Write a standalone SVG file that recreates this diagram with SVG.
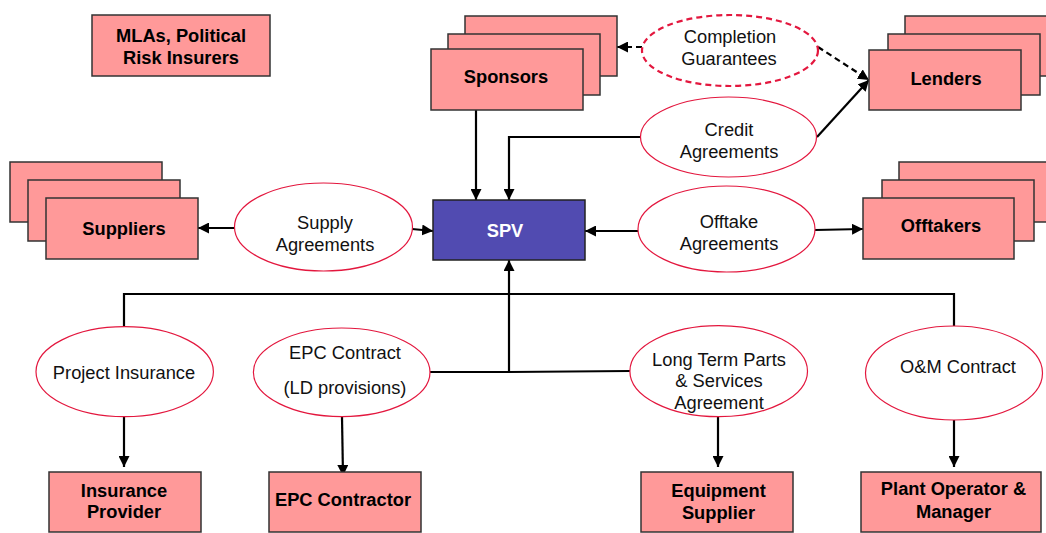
<svg xmlns="http://www.w3.org/2000/svg" width="1046" height="533" viewBox="0 0 1046 533">
<defs>
<marker id="ah" markerUnits="userSpaceOnUse" markerWidth="11" markerHeight="11" refX="10" refY="5" orient="auto" viewBox="0 0 10 10">
<path d="M0,0 L10,5 L0,10 z" fill="#000"/>
</marker>
</defs>
<style>
.box{fill:#FF9999;stroke:#333;stroke-width:1.5}
.spv{fill:#514BB1;stroke:#222;stroke-width:1.5}
.ell{fill:#fff;stroke:#E3173E;stroke-width:1.2}
.ellD{fill:#fff;stroke:#E3173E;stroke-width:2.2;stroke-dasharray:6 4}
.lbl{font-family:"Liberation Sans",Arial,sans-serif;font-size:18.3px;font-weight:bold;fill:#000;text-anchor:middle}
.txt{font-family:"Liberation Sans",Arial,sans-serif;font-size:18.3px;fill:#111;text-anchor:middle}
.con{fill:none;stroke:#000;stroke-width:2.2}
.dash{fill:none;stroke:#000;stroke-width:2.2;stroke-dasharray:6 4}
.arr{marker-end:url(#ah)}
</style>
<rect width="1046" height="533" fill="#fff"/>

<g id="connectors">
<line class="con arr" x1="476" y1="110" x2="476" y2="200"/>
<polyline class="con arr" points="640,137 509,137 509,200"/>
<line class="con arr" x1="817" y1="137" x2="869" y2="80"/>
<line class="dash arr" x1="642" y1="47" x2="617" y2="47"/>
<line class="dash arr" x1="818" y1="47" x2="869" y2="80"/>
<line class="con arr" x1="235" y1="228" x2="198" y2="228"/>
<line class="con arr" x1="412" y1="229" x2="433" y2="231"/>
<line class="con arr" x1="638" y1="231" x2="585" y2="231"/>
<line class="con arr" x1="815" y1="230" x2="863" y2="229"/>
<polyline class="con" points="124,327 124,294 954,294 954,327"/>
<polyline class="con" points="430,372 509,372 630,371"/>
<line class="con arr" x1="509" y1="372" x2="509" y2="260"/>
<line class="con arr" x1="124" y1="417" x2="124" y2="467"/>
<line class="con arr" x1="342" y1="417" x2="343" y2="476"/>
<line class="con arr" x1="718" y1="417" x2="718" y2="467"/>
<line class="con arr" x1="954" y1="420" x2="954" y2="467"/>
</g>

<g id="mlas">
<rect class="box" x="92" y="15" width="178" height="61"/>
<text class="lbl" x="181" y="42">MLAs, Political</text>
<text class="lbl" x="181" y="64">Risk Insurers</text>
</g>

<g id="sponsors">
<rect class="box" x="465" y="16" width="152" height="60"/>
<rect class="box" x="448" y="34" width="152" height="61"/>
<rect class="box" x="431" y="49" width="152" height="61"/>
<text class="lbl" x="506" y="83">Sponsors</text>
</g>

<g id="completion-guarantees">
<ellipse class="ellD" cx="730" cy="50.5" rx="88" ry="35.5"/>
<text class="txt" x="730" y="43">Completion</text>
<text class="txt" x="729" y="65">Guarantees</text>
</g>

<g id="lenders">
<rect class="box" x="905" y="16" width="152" height="60"/>
<rect class="box" x="888" y="34" width="152" height="61"/>
<rect class="box" x="869" y="50" width="152" height="60"/>
<text class="lbl" x="946" y="85">Lenders</text>
</g>

<g id="credit-agreements">
<ellipse class="ell" cx="728.5" cy="137" rx="88" ry="40"/>
<text class="txt" x="729" y="136">Credit</text>
<text class="txt" x="729" y="158">Agreements</text>
</g>

<g id="suppliers">
<rect class="box" x="10" y="162" width="152" height="60"/>
<rect class="box" x="28" y="180" width="152" height="61"/>
<rect class="box" x="46" y="198" width="152" height="61"/>
<text class="lbl" x="124" y="235">Suppliers</text>
</g>

<g id="supply-agreements">
<ellipse class="ell" cx="323.5" cy="227" rx="89" ry="44"/>
<text class="txt" x="325" y="229">Supply</text>
<text class="txt" x="325" y="251">Agreements</text>
</g>

<g id="spv">
<rect class="spv" x="433" y="200" width="152" height="60"/>
<text class="lbl" x="505" y="237" fill="#fff" style="fill:#fff">SPV</text>
</g>

<g id="offtake-agreements">
<ellipse class="ell" cx="726.5" cy="229" rx="88.5" ry="43"/>
<text class="txt" x="729" y="228">Offtake</text>
<text class="txt" x="729" y="250">Agreements</text>
</g>

<g id="offtakers">
<rect class="box" x="899" y="162" width="152" height="60"/>
<rect class="box" x="882" y="180" width="152" height="61"/>
<rect class="box" x="863" y="198" width="151" height="61"/>
<text class="lbl" x="941" y="232">Offtakers</text>
</g>

<g id="project-insurance">
<ellipse class="ell" cx="124.7" cy="371.7" rx="88.7" ry="45"/>
<text class="txt" x="124" y="379">Project Insurance</text>
</g>

<g id="epc-contract">
<ellipse class="ell" cx="341.7" cy="372.3" rx="88.3" ry="44.3"/>
<text class="txt" x="345" y="359">EPC Contract</text>
<text class="txt" x="345" y="394">(LD provisions)</text>
</g>

<g id="ltpsa">
<ellipse class="ell" cx="718.7" cy="371.2" rx="88.8" ry="45.5"/>
<text class="txt" x="719" y="366">Long Term Parts</text>
<text class="txt" x="719" y="387">&amp; Services</text>
<text class="txt" x="719" y="409">Agreement</text>
</g>

<g id="om-contract">
<ellipse class="ell" cx="954" cy="373" rx="88.5" ry="47"/>
<text class="txt" x="958" y="373">O&amp;M Contract</text>
</g>

<g id="insurance-provider">
<rect class="box" x="49" y="472" width="152" height="60"/>
<text class="lbl" x="124" y="497">Insurance</text>
<text class="lbl" x="124" y="518">Provider</text>
</g>

<g id="epc-contractor">
<rect class="box" x="269" y="472" width="152" height="60"/>
<text class="lbl" x="343" y="506">EPC Contractor</text>
</g>

<g id="equipment-supplier">
<rect class="box" x="641" y="472" width="152" height="60"/>
<text class="lbl" x="718.5" y="497">Equipment</text>
<text class="lbl" x="718.5" y="519">Supplier</text>
</g>

<g id="plant-operator">
<rect class="box" x="861" y="472" width="180" height="60"/>
<text class="lbl" x="953.5" y="495">Plant Operator &amp;</text>
<text class="lbl" x="953.5" y="518">Manager</text>
</g>
</svg>
